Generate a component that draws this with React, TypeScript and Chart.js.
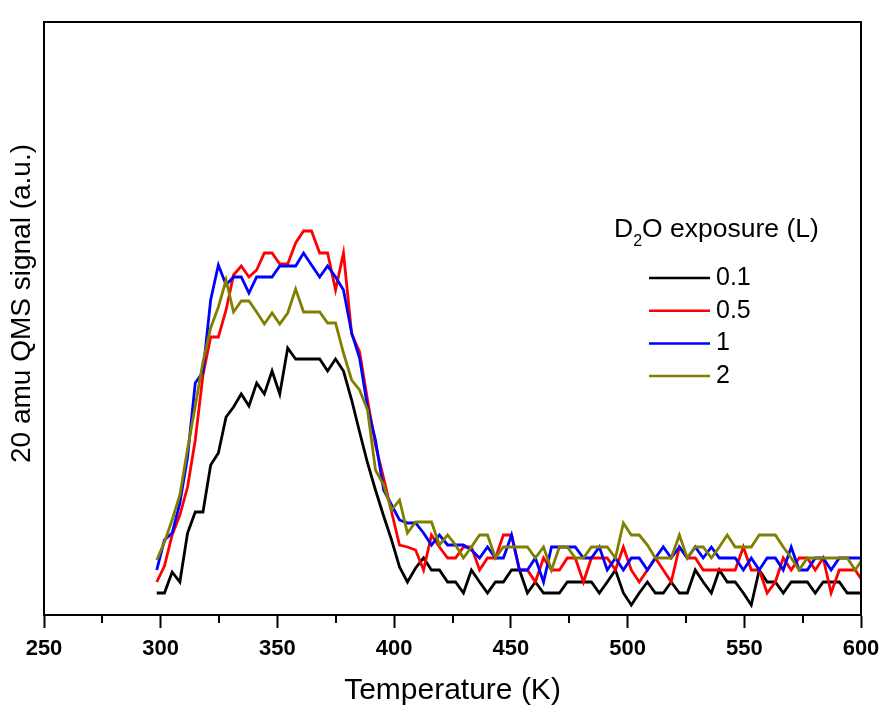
import React, { useEffect, useRef } from "react";
import { Chart, registerables } from "chart.js";

Chart.register(...registerables);

// Temperature (K)
const temperatures = [
  298.3, 301.6, 304.9, 308.2, 311.5, 314.8, 318.1, 321.4, 324.7, 328.0,
  331.2, 334.5, 337.8, 341.1, 344.4, 347.7, 351.0, 354.4, 357.8, 361.2,
  364.6, 368.1, 371.5, 374.9, 378.3, 381.8, 385.2, 388.6, 392.0, 395.5,
  398.9, 402.3, 405.7, 409.2, 412.6, 416.0, 419.4, 422.9, 426.3, 429.7,
  433.1, 436.6, 440.0, 443.4, 446.8, 450.3, 453.7, 457.1, 460.5, 464.0,
  467.4, 470.8, 474.2, 477.6, 481.1, 484.5, 487.9, 491.3, 494.8, 498.2,
  501.6, 505.0, 508.5, 511.9, 515.3, 518.7, 522.2, 525.6, 529.0, 532.4,
  535.9, 539.3, 542.7, 546.1, 549.6, 553.0, 556.4, 559.8, 563.3, 566.7,
  570.1, 573.5, 577.0, 580.4, 583.8, 587.2, 590.7, 594.1, 597.5, 600.9,
];

// 20 amu QMS signal (a.u.) for each D2O exposure
const signal_0_1 = [
  2.2, 2.2, 4.3, 3.3, 8.2, 10.3, 10.3, 15.0, 16.2, 19.8,
  20.8, 22.1, 20.9, 23.2, 22.1, 24.4, 22.1, 26.7, 25.6, 25.6,
  25.6, 25.6, 24.4, 25.6, 24.4, 21.5, 18.3, 15.2, 12.5, 9.9,
  7.5, 4.8, 3.3, 4.7, 5.7, 4.5, 4.5, 3.3, 3.3, 2.2,
  4.5, 3.3, 2.2, 3.3, 3.3, 4.5, 4.5, 2.2, 3.3, 2.2,
  2.2, 2.2, 3.3, 3.3, 3.3, 3.3, 2.2, 3.3, 4.5, 2.2,
  1.0, 2.2, 3.3, 2.2, 2.2, 3.3, 2.2, 2.2, 4.5, 3.3,
  2.2, 4.5, 3.3, 3.3, 2.2, 1.0, 4.5, 3.3, 3.3, 2.2,
  3.3, 3.3, 3.3, 2.2, 3.3, 3.3, 3.3, 2.2, 2.2, 2.2,
];

const signal_0_5 = [
  3.3, 4.9, 8.0, 10.0, 12.8, 17.5, 24.0, 27.8, 27.8, 30.5,
  34.0, 34.9, 33.8, 34.5, 36.2, 36.2, 35.1, 35.1, 37.2, 38.4,
  38.4, 36.2, 36.2, 32.5, 36.2, 28.1, 26.3, 21.5, 17.0, 13.7,
  10.3, 7.0, 6.8, 6.5, 4.5, 8.0, 6.8, 5.7, 5.7, 6.8,
  6.8, 4.5, 5.7, 5.7, 8.0, 8.0, 4.5, 4.5, 3.3, 5.7,
  4.5, 4.5, 5.7, 5.7, 3.3, 5.7, 5.7, 5.7, 4.5, 6.8,
  4.5, 3.3, 4.5, 5.7, 4.5, 3.3, 6.8, 5.7, 5.7, 4.5,
  4.5, 4.5, 4.5, 4.5, 6.8, 4.5, 4.5, 2.2, 3.3, 5.7,
  4.5, 5.7, 5.7, 4.5, 5.7, 2.2, 4.5, 4.5, 4.5, 3.3,
];

const signal_1 = [
  4.5, 7.5, 8.2, 11.2, 15.8, 23.2, 24.3, 31.5, 35.0, 33.0,
  33.8, 33.8, 32.2, 33.8, 33.8, 33.8, 34.9, 34.9, 34.9, 36.2,
  35.0, 33.8, 34.9, 33.8, 32.5, 28.2, 25.7, 20.8, 17.5, 12.5,
  11.0, 9.5, 9.2, 9.2, 8.2, 7.0, 8.0, 7.0, 7.0, 7.0,
  6.5, 5.7, 6.8, 5.7, 5.7, 8.0, 4.5, 4.5, 5.7, 3.3,
  6.8, 6.8, 6.8, 6.8, 5.7, 5.7, 6.8, 4.5, 5.7, 4.5,
  5.7, 5.7, 4.5, 5.7, 6.8, 5.7, 6.8, 5.7, 6.8, 5.7,
  6.8, 5.7, 5.7, 5.7, 4.5, 5.7, 4.5, 5.7, 5.7, 4.5,
  6.8, 4.5, 4.5, 5.7, 5.7, 4.5, 5.7, 5.7, 5.7, 5.7,
];

const signal_2 = [
  5.5, 7.3, 9.5, 12.0, 16.6, 20.9, 25.3, 28.7, 30.8, 33.5,
  30.3, 31.4, 31.4, 30.3, 29.1, 30.2, 29.1, 30.2, 32.6, 30.3,
  30.3, 30.3, 29.2, 29.2, 26.2, 23.5, 22.5, 20.5, 14.5, 13.0,
  10.5, 11.5, 8.2, 9.3, 9.3, 9.3, 7.0, 8.0, 7.0, 5.7,
  6.8, 8.0, 8.0, 5.7, 6.8, 6.8, 6.8, 6.8, 5.7, 6.8,
  4.5, 6.8, 6.8, 5.7, 5.7, 6.8, 6.8, 6.8, 5.7, 9.2,
  8.0, 8.0, 7.0, 5.7, 5.7, 5.7, 8.0, 5.7, 6.8, 6.8,
  5.7, 6.8, 8.0, 6.8, 6.8, 6.8, 8.0, 8.0, 8.0, 6.8,
  5.7, 4.5, 5.7, 5.7, 5.7, 5.7, 5.7, 5.7, 4.5, 5.7,
];

const seriesLabels = ["0.1", "0.5", "1", "2"];
const seriesColors = ["#000000", "#ff0000", "#0000ff", "#808000"];
const xMajorTicks = [250, 300, 350, 400, 450, 500, 550, 600];
const xMinorTicks = [275, 325, 375, 425, 475, 525, 575];
const xTitle = "Temperature (K)";
const yTitle = "20 amu QMS signal (a.u.)";
const legendTitleParts = ["D", "2", "O exposure (L)"];

const FONT = "'Liberation Sans', Arial, Helvetica, sans-serif";

const decorPlugin = {
  id: "decor",
  afterDraw(chart: any) {
    const { ctx, chartArea } = chart;
    const { left, right, top, bottom } = chartArea;
    ctx.save();
    // frame (top and right sides)
    ctx.strokeStyle = "#000";
    ctx.lineWidth = 2;
    ctx.beginPath();
    ctx.moveTo(left, top);
    ctx.lineTo(right, top);
    ctx.lineTo(right, bottom);
    ctx.stroke();
    // minor ticks on x axis
    const xs = chart.scales.x;
    ctx.beginPath();
    for (const v of xMinorTicks) {
      const px = Math.round(xs.getPixelForValue(v));
      ctx.moveTo(px, bottom);
      ctx.lineTo(px, bottom + 8);
    }
    ctx.stroke();
    // y-axis title
    ctx.save();
    ctx.translate(22, (top + bottom) / 2 - 15);
    ctx.rotate(-Math.PI / 2);
    ctx.font = `28px ${FONT}`;
    ctx.fillStyle = "#000";
    ctx.textAlign = "center";
    ctx.textBaseline = "middle";
    ctx.fillText(yTitle, 0, 0);
    ctx.restore();
    // legend
    ctx.fillStyle = "#000";
    ctx.textAlign = "left";
    ctx.textBaseline = "alphabetic";
    let lx = 614;
    const ly = 237;
    ctx.font = `26.5px ${FONT}`;
    ctx.fillText(legendTitleParts[0], lx, ly);
    lx += ctx.measureText(legendTitleParts[0]).width;
    ctx.font = `16px ${FONT}`;
    ctx.fillText(legendTitleParts[1], lx, ly + 9);
    lx += ctx.measureText(legendTitleParts[1]).width;
    ctx.font = `26.5px ${FONT}`;
    ctx.fillText(legendTitleParts[2], lx, ly);

    const datasets = chart.data.datasets;
    ctx.textBaseline = "middle";
    ctx.font = `25px ${FONT}`;
    datasets.forEach((ds: any, i: number) => {
      const ry = 278 + i * 32.7;
      ctx.strokeStyle = ds.borderColor;
      ctx.lineWidth = 2.5;
      ctx.beginPath();
      ctx.moveTo(649, ry);
      ctx.lineTo(710, ry);
      ctx.stroke();
      ctx.fillStyle = "#000";
      ctx.fillText(ds.label, 716, ry);
    });
    ctx.restore();
  },
};

export default function App() {
  const canvasRef = useRef<HTMLCanvasElement | null>(null);

  useEffect(() => {
    if (!canvasRef.current) return;
    const series = [signal_0_1, signal_0_5, signal_1, signal_2];
    const datasets = series.map((vals, i) => ({
      label: seriesLabels[i],
      data: vals.map((v, j) => ({ x: temperatures[j], y: v })),
      borderColor: seriesColors[i],
      backgroundColor: seriesColors[i],
      borderWidth: 2.8,
      pointRadius: 0,
      tension: 0,
      fill: false,
      order: 4 - i,
    }));
    const chart = new Chart(canvasRef.current, {
      type: "line",
      data: { datasets },
      options: {
        responsive: false,
        maintainAspectRatio: false,
        animation: false,
        layout: { padding: { top: 22, right: 20, left: 0, bottom: 0 } },
        plugins: {
          legend: { display: false },
          tooltip: { enabled: false },
        },
        scales: {
          x: {
            type: "linear",
            min: 250,
            max: 600,
            afterBuildTicks: (scale: any) => {
              scale.ticks = xMajorTicks.map((v) => ({ value: v }));
            },
            afterFit: (scale: any) => {
              scale.height = 91;
              scale.paddingLeft = 0;
              scale.paddingRight = 0;
            },
            ticks: {
              autoSkip: false,
              maxRotation: 0,
              padding: 8,
              color: "#000",
              font: { family: FONT, size: 22, weight: "bold" },
            },
            grid: {
              display: true,
              drawOnChartArea: false,
              drawTicks: true,
              tickLength: 13,
              tickWidth: 2,
              tickColor: "#000",
            },
            border: { display: true, color: "#000", width: 2 },
            title: {
              display: true,
              text: xTitle,
              color: "#000",
              padding: 0,
              font: { family: FONT, size: 30, lineHeight: 1 },
            },
          },
          y: {
            type: "linear",
            min: 0,
            max: 59.3,
            afterFit: (scale: any) => {
              scale.width = 44;
            },
            ticks: { display: false },
            grid: { display: false, drawTicks: false },
            border: { display: true, color: "#000", width: 2 },
            title: { display: false },
          },
        },
      },
      plugins: [decorPlugin],
    } as any);
    return () => chart.destroy();
  }, []);

  return (
    <div style={{ position: "absolute", left: 0, top: 0, width: 881, height: 706, background: "#fff" }}>
      <canvas ref={canvasRef} width={881} height={706} style={{ display: "block" }} />
    </div>
  );
}
